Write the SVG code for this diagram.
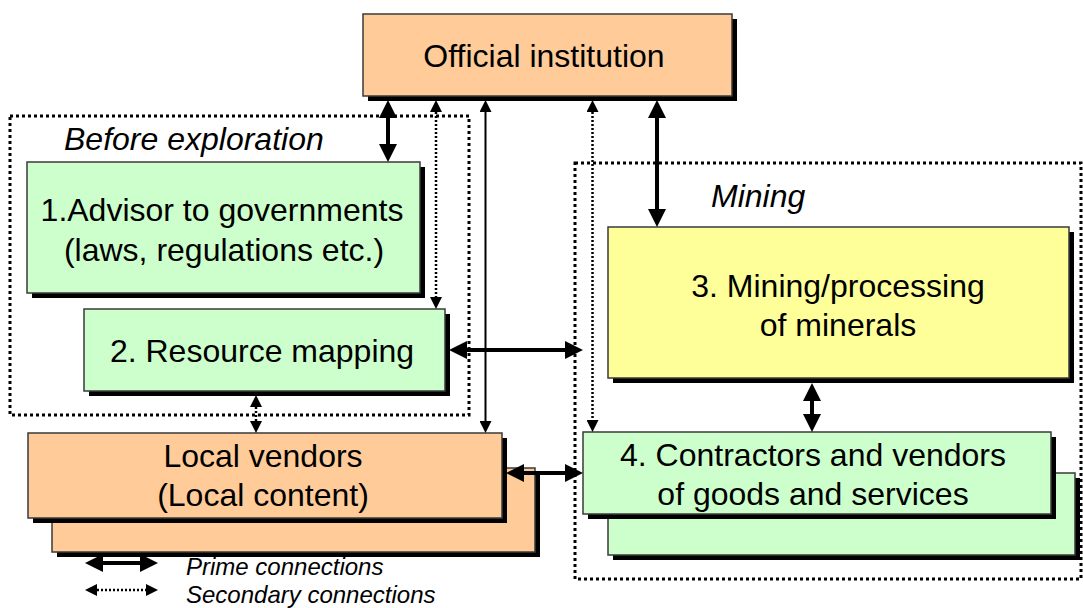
<svg xmlns="http://www.w3.org/2000/svg" width="1083" height="608" viewBox="0 0 1083 608">
  <style>
    .box { stroke: #3a3a3a; stroke-width: 1.5; }
    .shadow { fill: #000; }
    .orange { fill: #FFCC99; }
    .green { fill: #CCFFCC; }
    .yellow { fill: #FFFF99; }
    .label { font-family: "Liberation Sans", Arial, sans-serif; font-size: 32px; fill: #000; text-anchor: middle; }
    .phase { font-family: "Liberation Sans", Arial, sans-serif; font-size: 32px; font-style: italic; fill: #000; }
    .legend { font-family: "Liberation Sans", Arial, sans-serif; font-size: 24px; font-style: italic; fill: #000; }
    .frame { fill: none; stroke: #000; stroke-width: 3; stroke-dasharray: 3 3; }
    .prime { fill: none; stroke: #000; stroke-width: 4; marker-start: url(#head-prime); marker-end: url(#head-prime); }
    .thin { fill: none; stroke: #000; stroke-width: 2; marker-start: url(#head-thin); marker-end: url(#head-thin); }
    .secondary { fill: none; stroke: #000; stroke-width: 2.5; stroke-dasharray: 2 2; marker-start: url(#head-thin); marker-end: url(#head-thin); }
  </style>
  <defs>
    <marker id="head-prime" viewBox="0 0 18 18" refX="6" refY="9" markerWidth="18" markerHeight="18" markerUnits="userSpaceOnUse" orient="auto-start-reverse">
      <path d="M0,0 L18,9 L0,18 z" fill="#000"/>
    </marker>
    <marker id="head-thin" viewBox="0 0 12 12" refX="4" refY="6" markerWidth="12" markerHeight="12" markerUnits="userSpaceOnUse" orient="auto-start-reverse">
      <path d="M0,0 L12,6 L0,12 z" fill="#000"/>
    </marker>
  </defs>

  <rect width="1083" height="608" fill="#fff"/>

  <!-- phase frames -->
  <g id="phase-before-exploration">
    <rect class="frame" x="10" y="116" width="459" height="299"/>
    <text class="phase" x="64" y="150">Before exploration</text>
  </g>
  <g id="phase-mining">
    <rect class="frame" x="575" y="163" width="506" height="416"/>
    <text class="phase" x="711" y="207">Mining</text>
  </g>

  <!-- nodes -->
  <g id="official-institution">
    <rect class="shadow" x="368" y="19" width="369" height="82"/>
    <rect class="box orange" x="363" y="14" width="369" height="82"/>
    <text class="label" x="544" y="67">Official institution</text>
  </g>

  <g id="advisor">
    <rect class="shadow" x="32" y="167" width="393" height="131"/>
    <rect class="box green" x="27" y="162" width="393" height="131"/>
    <text class="label" x="222" y="221">1.Advisor to governments</text>
    <text class="label" x="224" y="261">(laws, regulations etc.)</text>
  </g>

  <g id="resource-mapping">
    <rect class="shadow" x="89" y="314" width="361" height="82"/>
    <rect class="box green" x="84" y="309" width="361" height="82"/>
    <text class="label" x="262" y="362">2. Resource mapping</text>
  </g>

  <g id="local-vendors">
    <rect class="shadow" x="57" y="473" width="483" height="84"/>
    <rect class="box orange" x="52" y="468" width="483" height="84"/>
    <rect class="shadow" x="33" y="438" width="474" height="85"/>
    <rect class="box orange" x="28" y="433" width="474" height="85"/>
    <text class="label" x="263" y="467">Local vendors</text>
    <text class="label" x="263" y="506">(Local content)</text>
  </g>

  <g id="mining-processing">
    <rect class="shadow" x="613" y="232" width="461" height="151"/>
    <rect class="box yellow" x="608" y="227" width="461" height="151"/>
    <text class="label" x="838" y="297">3. Mining/processing</text>
    <text class="label" x="838" y="336">of minerals</text>
  </g>

  <g id="contractors-vendors">
    <rect class="shadow" x="613" y="478" width="467" height="82"/>
    <rect class="box green" x="608" y="473" width="467" height="82"/>
    <rect class="shadow" x="588" y="437" width="468" height="82"/>
    <rect class="box green" x="583" y="432" width="468" height="82"/>
    <text class="label" x="813" y="466">4. Contractors and vendors</text>
    <text class="label" x="813" y="505">of goods and services</text>
  </g>

  <!-- connectors -->
  <g id="connectors">
    <line class="prime" x1="388" y1="112" x2="388" y2="150"/>
    <line class="secondary" x1="436" y1="108" x2="436" y2="301"/>
    <line class="thin" x1="485.5" y1="108" x2="485.5" y2="425"/>
    <line class="secondary" x1="592.5" y1="108" x2="592.5" y2="424"/>
    <line class="prime" x1="657" y1="112" x2="657" y2="215"/>
    <line class="prime" x1="461" y1="350" x2="571" y2="350"/>
    <line class="secondary" x1="256" y1="403" x2="256" y2="425"/>
    <line class="prime" x1="812" y1="395" x2="812" y2="420"/>
    <line class="prime" x1="518" y1="473" x2="571" y2="473"/>
  </g>

  <!-- legend -->
  <g id="legend">
    <line class="prime" x1="97" y1="563" x2="146" y2="563"/>
    <line class="secondary" x1="93" y1="590" x2="150" y2="590"/>
    <text class="legend" x="186" y="575">Prime connections</text>
    <text class="legend" x="186" y="603">Secondary connections</text>
  </g>
</svg>
